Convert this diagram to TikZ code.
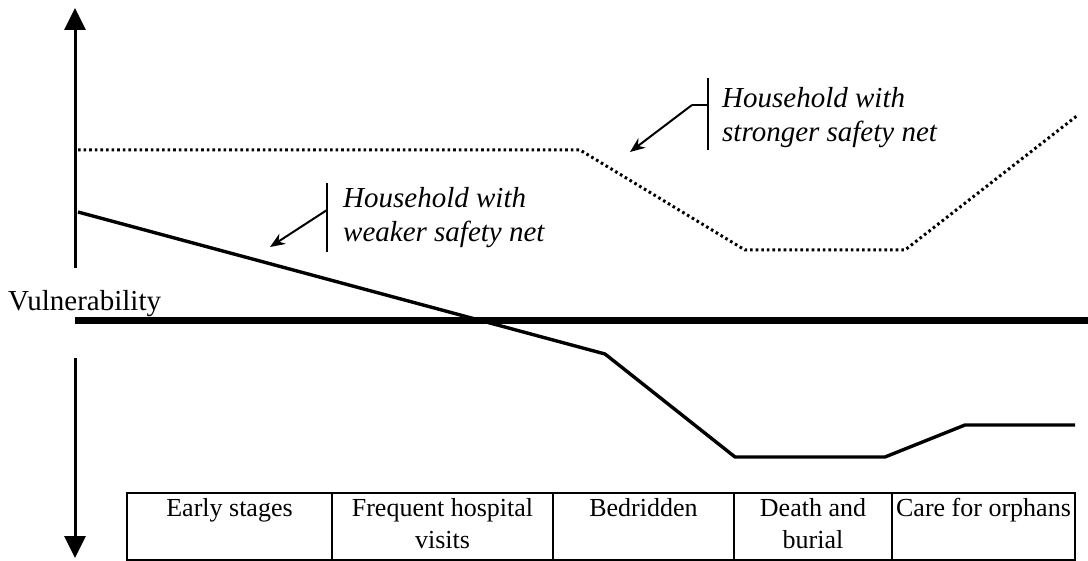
\documentclass[tikz,border=0pt]{standalone}
\usepackage{fontspec}
\setmainfont{Liberation Serif}
\usetikzlibrary{arrows.meta, positioning}

\begin{document}
\begin{tikzpicture}[
        x=1pt, y=-1pt,
        axis/.style={line width=3pt, -{Triangle[width=21pt,length=22pt]}},
        zeroline/.style={line width=7pt},
        strongnet/.style={line width=3pt, dash pattern=on 2.6pt off 3pt},
        weaknet/.style={line width=3.4pt, line join=round},
        pointer/.style={line width=2pt, -{Stealth[length=15pt,width=12pt]}},
        bar/.style={line width=2.2pt},
        note/.style={font=\fontsize{29}{34}\selectfont\itshape, align=left, anchor=north west, inner sep=0pt},
        cell/.style={draw, line width=2.2pt, minimum height=67pt, inner sep=0pt, outer sep=0pt},
        celltext/.style={font=\fontsize{26}{32}\selectfont, align=center, anchor=north, inner sep=0pt, yshift=-5pt}
    ]
    \useasboundingbox (0,0) rectangle (1088,561);

    % Axis with a gap for the label
    \coordinate (axtop) at (75,8);
    \coordinate (axgapa) at (75,268);
    \coordinate (axgapb) at (75,358);
    \coordinate (axbot) at (75,558);
    \draw [axis] (axgapa) -- (axtop);
    \draw [axis] (axgapb) -- (axbot);
    \node [font=\fontsize{29}{34}\selectfont, anchor=base west, inner sep=0pt] (vullabel) at (8,311) {Vulnerability};
    \draw [zeroline] (75,321) -- (1088,321);

    % Household with stronger safety net
    \draw [strongnet] (78,150) -- (580,150) -- (745,250) -- (905,250) -- (1078,115);

    % Household with weaker safety net
    \draw [weaknet] (78,212) -- (605,354) -- (735,457) -- (885,457) -- (965,425) -- (1075,425);

    % Notes
    \node [note] (strongnote) at (722,87) {Household with\\stronger safety net};
    \coordinate (strongbar) at (708,105);
    \draw [bar] (708,78) -- (708,150);
    \draw [bar] (strongbar) -- ++(-16,0) coordinate (strongbend);
    \draw [pointer] (strongbend) -- (630,152);

    \node [note] (weaknote) at (343,187) {Household with\\weaker safety net};
    \coordinate (weakbar) at (327,210);
    \draw [bar] (327,183) -- (327,252);
    \draw [pointer] (weakbar) -- (270,247);

    % Stages
    \node [cell, minimum width=205pt, anchor=north west] (early) at (127,493) {};
    \node [cell, minimum width=221pt, right=0pt of early] (visits) {};
    \node [cell, minimum width=181pt, right=0pt of visits] (bed) {};
    \node [cell, minimum width=158pt, right=0pt of bed] (death) {};
    \node [cell, minimum width=183pt, right=0pt of death] (orphans) {};

    \node [celltext] (earlytext) at (early.north) {Early stages};
    \node [celltext] (visitstext) at (visits.north) {Frequent hospital\\visits};
    \node [celltext] (bedtext) at (bed.north) {Bedridden};
    \node [celltext] (deathtext) at (death.north) {Death and\\burial};
    \node [celltext] (orphanstext) at (orphans.north) {Care for orphans};

\end{tikzpicture}
\end{document}
